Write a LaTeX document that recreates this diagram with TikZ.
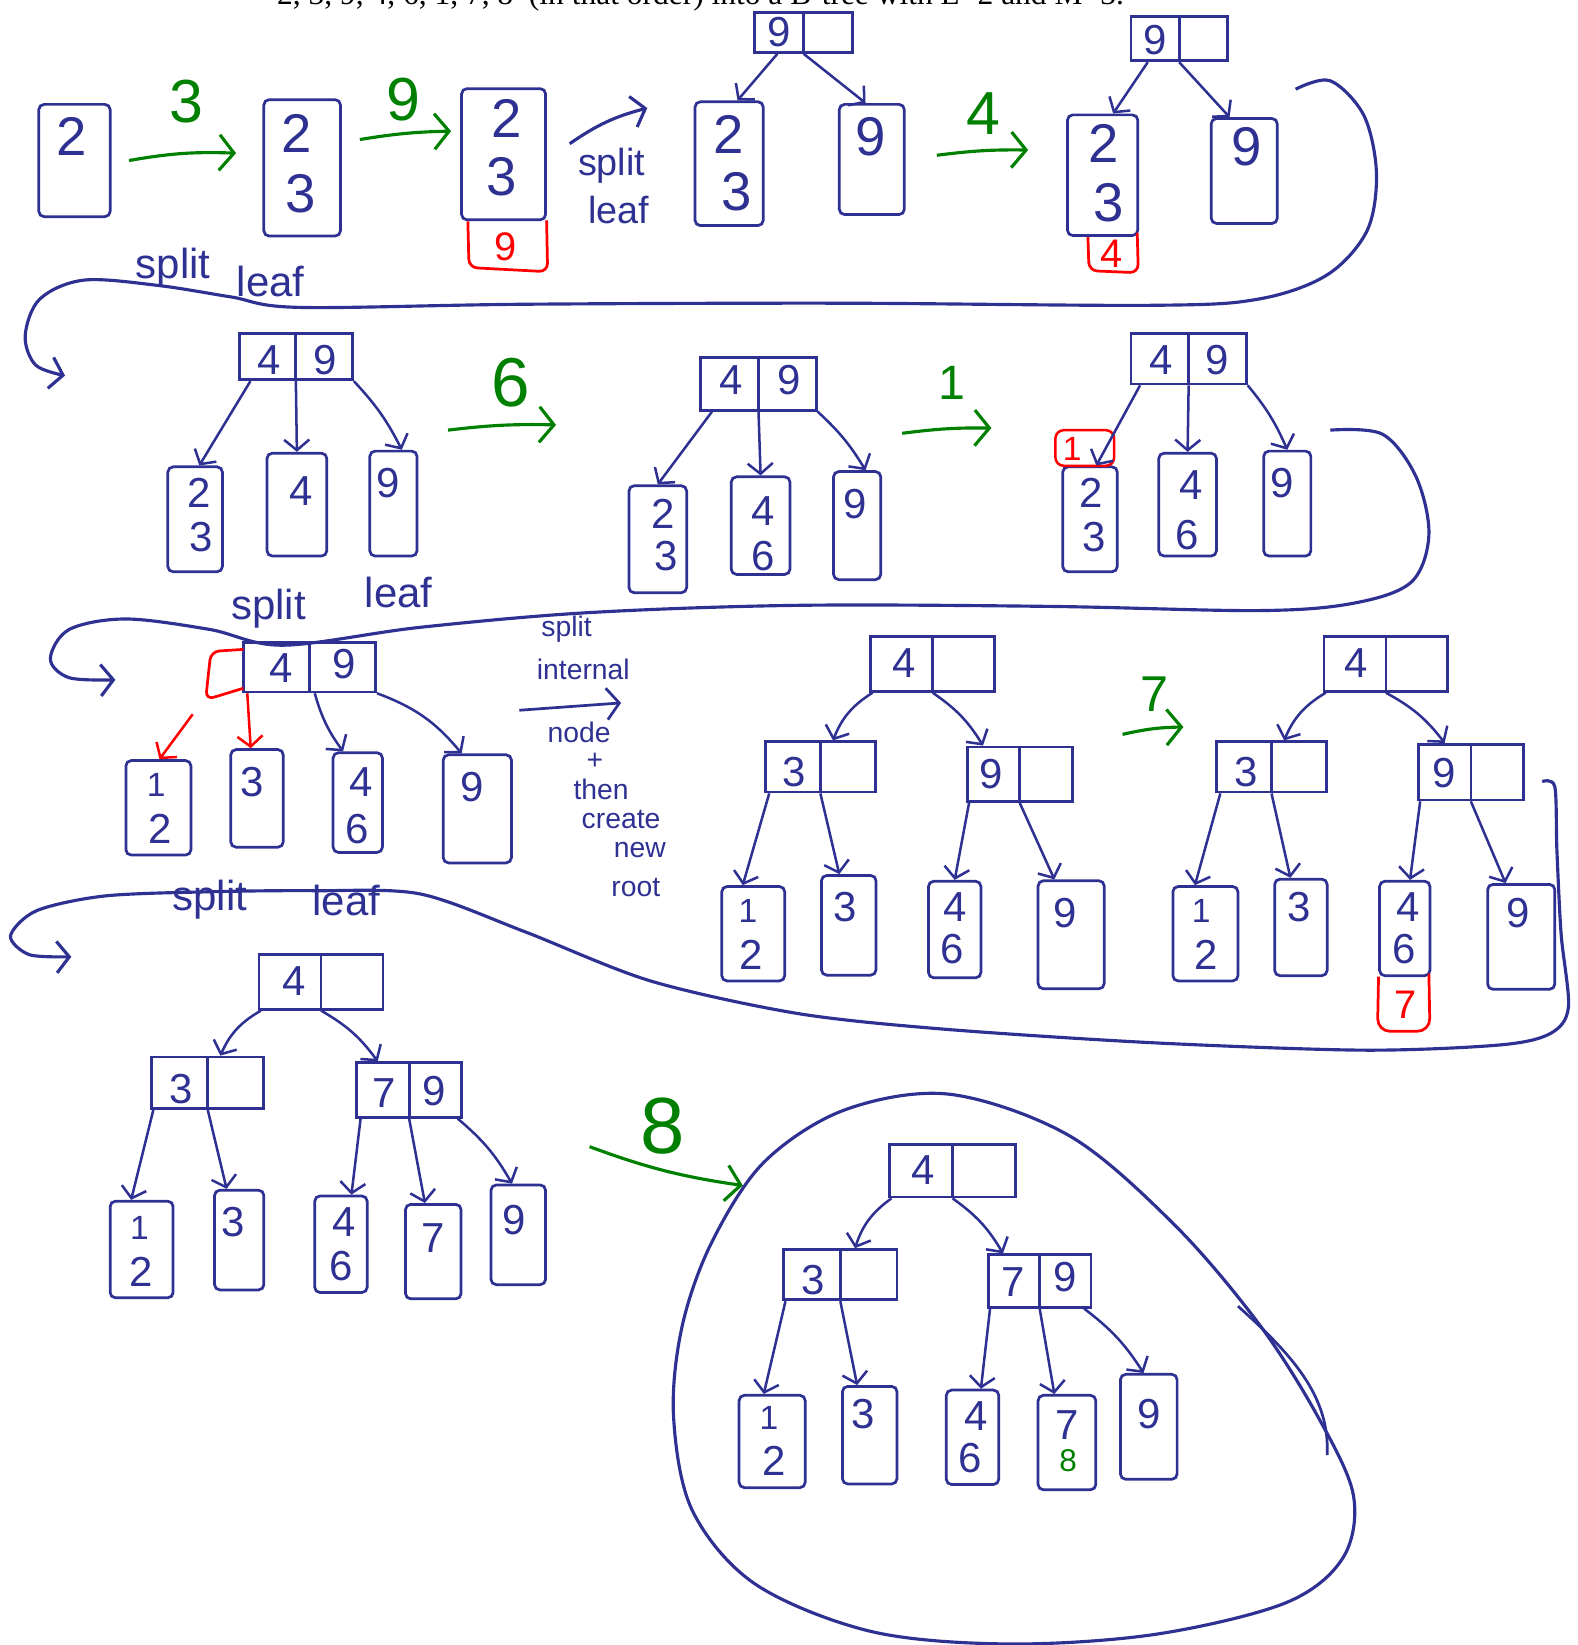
\documentclass[tikz,border=0pt]{standalone}
\usepackage{fontspec}
\setmainfont{Liberation Serif}
\setsansfont{Liberation Sans}
\usetikzlibrary{arrows.meta}
\definecolor{ink}{RGB}{46,49,146}
\definecolor{grn}{RGB}{0,128,0}
\definecolor{rd}{RGB}{255,0,0}
\tikzset{
 leaf/.style={draw=ink, line width=2.6pt, rounded corners=5pt, inner sep=0pt},
 inode/.style={draw=ink, line width=2.6pt, inner sep=0pt},
 divider/.style={draw=ink, line width=2.6pt},
 dig/.style={text=ink, inner sep=0pt, font=\sffamily\fontsize{40}{40}\selectfont},
 bigdig/.style={dig, font=\sffamily\fontsize{52}{52}\selectfont},
 smalldig/.style={dig, font=\sffamily\fontsize{32}{32}\selectfont},
 rdig/.style={dig, text=rd, font=\sffamily\fontsize{38}{38}\selectfont},
 gdig/.style={dig, text=grn, font=\sffamily\fontsize{30}{30}\selectfont},
 lab/.style={text=grn, inner sep=0pt, font=\sffamily\fontsize{58}{58}\selectfont},
 hand/.style={text=ink, inner sep=0pt, font=\sffamily\fontsize{40}{40}\selectfont},
 note/.style={text=ink, inner sep=0pt, font=\sffamily\fontsize{27}{27}\selectfont},
 edge/.style={draw=ink, line width=2.4pt, -{Straight Barb[length=10pt,width=24pt]}},
 redge/.style={edge, draw=rd},
 garrow/.style={draw=grn, line width=3pt, -{Straight Barb[length=14pt,width=34pt]}},
 flow/.style={draw=ink, line width=3pt, -{Straight Barb[length=12pt,width=30pt]}},
 flowline/.style={draw=ink, line width=3pt},
 redline/.style={draw=rd, line width=2.6pt, rounded corners=8pt},
}
\begin{document}
\begin{tikzpicture}[x=1pt,y=-1pt]
\useasboundingbox (0,0) rectangle (1504,1568);

% title (cut off at the top, as in the original)
\node[anchor=base west, inner sep=0pt, font=\fontsize{30}{30}\selectfont] (title) at (264,4)
  {2, 3, 9, 4, 6, 1, 7, 8\ \ (in that order) into a B-tree with L=2 and M=3.};

% ---------------- row 1 ----------------
\node[leaf, minimum width=68pt, minimum height=107pt] (a1) at (71,153) {};
\node[bigdig] (a1k) at (68,130) {2};

\node[leaf, minimum width=73pt, minimum height=130pt] (a2) at (288,160) {};
\node[bigdig] (a2k1) at (283,127) {2};
\node[bigdig] (a2k2) at (287,185) {3};

\node[leaf, minimum width=80pt, minimum height=125pt] (a3) at (480,147) {};
\node[bigdig] (a3k1) at (483,113) {2};
\node[bigdig] (a3k2) at (478,168) {3};
\draw[redline] (446,211) -- (447,255) -- (522,259) -- (521,210);
\node[rdig] (a3r) at (482,235) {9};

\coordinate (g1s) at (123,153); \coordinate (g1e) at (225,146);
\draw[garrow] (g1s) to[bend left=6] (g1e);
\node[lab] (g1l) at (178,97) {3};
\coordinate (g2s) at (343,133); \coordinate (g2e) at (430,125);
\draw[garrow] (g2s) to[bend left=4] (g2e);
\node[lab] (g2l) at (385,95) {9};

\coordinate (s1s) at (543,137); \coordinate (s1e) at (617,103);
\draw[flow] (s1s) to[bend left=10] (s1e);
\node[note, font=\sffamily\fontsize{36}{36}\selectfont] (s1t1) at (583,158) {split};
\node[note, font=\sffamily\fontsize{36}{36}\selectfont] (s1t2) at (590,200) {leaf};

% tree T1
\node[inode, minimum width=93pt, minimum height=38pt] (t1r) at (766,31) {};
\draw[divider] (t1r.north) -- (t1r.south);
\node[dig] (t1rk) at (743,31) {9};
\node[leaf, minimum width=65pt, minimum height=118pt] (t1a) at (695,156) {};
\node[bigdig] (t1ak1) at (695,128) {2};
\node[bigdig] (t1ak2) at (702,183) {3};
\node[leaf, minimum width=62pt, minimum height=105pt] (t1b) at (831,152) {};
\node[bigdig] (t1bk) at (830,130) {9};
\draw[edge] ([xshift=-25pt]t1r.south) -- ([xshift=8pt]t1a.north);
\draw[edge] (t1r.south) -- ([xshift=-6pt]t1b.north);

\coordinate (g3s) at (893,148); \coordinate (g3e) at (980,143);
\draw[garrow] (g3s) to[bend left=4] (g3e);
\node[lab] (g3l) at (937,108) {4};

% tree T2
\node[inode, minimum width=92pt, minimum height=42pt] (t2r) at (1124,37) {};
\draw[divider] (t2r.north) -- (t2r.south);
\node[dig] (t2rk) at (1101,38) {9};
\node[leaf, minimum width=67pt, minimum height=115pt] (t2a) at (1051,167) {};
\node[bigdig] (t2ak1) at (1052,137) {2};
\node[bigdig] (t2ak2) at (1057,193) {3};
\draw[redline] (1037,226) -- (1038,258) -- (1085,260) -- (1084,222);
\node[rdig] (t2red) at (1060,242) {4};
\node[leaf, minimum width=63pt, minimum height=100pt] (t2b) at (1186,163) {};
\node[bigdig] (t2bk) at (1188,140) {9};
\draw[edge] ([xshift=-30pt]t2r.south) -- ([xshift=10pt]t2a.north);
\draw[edge] (t2r.south) -- ([xshift=-14pt]t2b.north);

% big connector 1
\coordinate (c1s) at (1235,85);
\coordinate (c1e) at (62,358);
\draw[flow] plot[smooth, tension=0.55] coordinates {(c1s) (1268,77) (1300,110) (1312,165) (1303,220) (1265,262) (1200,285) (1100,291) (800,289) (500,290) (285,293) (220,283) (150,272) (80,267) (38,285) (24,320) (34,348) (62,358)};
\node[hand] (c1t1) at (165,255) {split};
\node[hand] (c1t2) at (258,268) {leaf};

% ---------------- row 2 ----------------
% tree T3
\node[inode, minimum width=108pt, minimum height=44pt] (t3r) at (282,340) {};
\draw[divider] (t3r.north) -- (t3r.south);
\node[dig] (t3rk1) at (257,343) {4};
\node[dig] (t3rk2) at (310,343) {9};
\node[leaf, minimum width=52pt, minimum height=100pt] (t3a) at (186,495) {};
\node[dig] (t3ak1) at (190,470) {2};
\node[dig] (t3ak2) at (192,512) {3};
\node[leaf, minimum width=57pt, minimum height=98pt] (t3b) at (283,481) {};
\node[dig] (t3bk) at (287,468) {4};
\node[leaf, minimum width=45pt, minimum height=100pt] (t3c) at (375,480) {};
\node[dig] (t3ck) at (370,460) {9};
\draw[edge] ([xshift=12pt]t3r.south west) -- ([xshift=4pt]t3a.north);
\draw[edge] (t3r.south) -- (t3b.north);
\draw[edge] (t3r.south east) to[bend left=8] ([xshift=8pt]t3c.north);

\coordinate (g4s) at (427,410); \coordinate (g4e) at (530,405);
\draw[garrow] (g4s) to[bend left=4] (g4e);
\node[lab, font=\sffamily\fontsize{66}{66}\selectfont] (g4l) at (487,365) {6};

% tree T4
\node[inode, minimum width=110pt, minimum height=50pt] (t4r) at (723,366) {};
\draw[divider] (t4r.north) -- (t4r.south);
\node[dig] (t4rk1) at (697,362) {4};
\node[dig] (t4rk2) at (752,362) {9};
\node[leaf, minimum width=55pt, minimum height=102pt] (t4a) at (627,514) {};
\node[dig] (t4ak1) at (632,490) {2};
\node[dig] (t4ak2) at (635,530) {3};
\node[leaf, minimum width=56pt, minimum height=93pt] (t4b) at (725,501) {};
\node[dig] (t4bk1) at (727,487) {4};
\node[dig] (t4bk2) at (727,530) {6};
\node[leaf, minimum width=45pt, minimum height=103pt] (t4c) at (817,501) {};
\node[dig] (t4ck) at (815,480) {9};
\draw[edge] ([xshift=12pt]t4r.south west) -- (t4a.north);
\draw[edge] (t4r.south) -- (t4b.north);
\draw[edge] (t4r.south east) to[bend left=8] ([xshift=8pt]t4c.north);

\coordinate (g5s) at (860,413); \coordinate (g5e) at (945,408);
\draw[garrow] (g5s) to[bend left=4] (g5e);
\node[lab, font=\sffamily\fontsize{46}{46}\selectfont] (g5l) at (907,365) {1};

% tree T5
\node[inode, minimum width=110pt, minimum height=48pt] (t5r) at (1133,342) {};
\draw[divider] (t5r.north) -- (t5r.south);
\node[dig] (t5rk1) at (1107,343) {4};
\node[dig] (t5rk2) at (1160,343) {9};
\node[leaf, minimum width=52pt, minimum height=100pt] (t5a) at (1039,495) {};
\node[dig] (t5ak1) at (1040,470) {2};
\node[dig] (t5ak2) at (1043,512) {3};
\node[draw=rd, line width=2.4pt, rounded corners=8pt, inner sep=0pt, minimum width=56pt, minimum height=34pt] (t5red) at (1034,427) {};
\node[rdig, font=\sffamily\fontsize{32}{32}\selectfont] (t5redk) at (1022,428) {1};
\node[leaf, minimum width=55pt, minimum height=98pt] (t5b) at (1132,481) {};
\node[dig] (t5bk1) at (1135,462) {4};
\node[dig] (t5bk2) at (1132,510) {6};
\node[leaf, minimum width=45pt, minimum height=100pt] (t5c) at (1227,480) {};
\node[dig] (t5ck) at (1222,460) {9};
\draw[edge] ([xshift=10pt]t5r.south west) -- ([xshift=6pt]t5a.north);
\draw[edge] (t5r.south) -- (t5b.north);
\draw[edge] (t5r.south east) to[bend left=8] (t5c.north);

% big connector 2
\coordinate (c2s) at (1268,410);
\coordinate (c2e) at (110,648);
\draw[flow] plot[smooth, tension=0.55] coordinates {(c2s) (1318,414) (1350,455) (1362,510) (1345,555) (1290,575) (1200,582) (1000,578) (760,577) (560,584) (400,598) (270,615) (200,600) (120,590) (66,600) (48,628) (66,646) (110,648)};
\node[hand] (c2t1) at (256,580) {split};
\node[hand] (c2t2) at (380,565) {leaf};

% ---------------- row 3 ----------------
% tree T6
\node[inode, minimum width=126pt, minimum height=47pt] (t6r) at (295,636) {};
\draw[divider] (t6r.north) -- (t6r.south);
\node[dig] (t6rk1) at (268,637) {4};
\node[dig] (t6rk2) at (328,633) {9};
\draw[redline] (232,619) -- (201,621) -- (196,667) -- (232,656);
\node[leaf, minimum width=62pt, minimum height=90pt] (t6a) at (151,770) {};
\node[smalldig] (t6ak1) at (149,748) {1};
\node[dig] (t6ak2) at (153,790) {2};
\node[leaf, minimum width=50pt, minimum height=93pt] (t6b) at (245,761) {};
\node[dig] (t6bk) at (240,745) {3};
\node[leaf, minimum width=47pt, minimum height=95pt] (t6c) at (341,765) {};
\node[dig] (t6ck1) at (344,745) {4};
\node[dig] (t6ck2) at (340,790) {6};
\node[leaf, minimum width=65pt, minimum height=103pt] (t6d) at (455,771) {};
\node[dig] (t6dk) at (450,750) {9};
\draw[redge] ([xshift=-47pt,yshift=-20pt]t6r.south west) -- ([xshift=1pt]t6a.north);
\draw[redge] ([xshift=5pt]t6r.south west) -- ([xshift=-6pt]t6b.north);
\draw[edge] ([xshift=5pt]t6r.south) to[bend right=10] ([xshift=-14pt]t6c.north);
\draw[edge] (t6r.south east) to[bend left=15] ([xshift=-15pt]t6d.north);

% side note
\node[note] (n1) at (540,600) {split};
\node[note] (n2) at (556,638) {internal};
\coordinate (n3s) at (495,677); \coordinate (n3e) at (592,670);
\draw[flow, line width=2.6pt] (n3s) -- (n3e);
\node[note] (n4) at (552,698) {node};
\node[note] (n5) at (567,726) {+};
\node[note] (n6) at (573,752) {then};
\node[note] (n7) at (592,781) {create};
\node[note] (n8) at (610,810) {new};
\node[note] (n9) at (606,846) {root};

% tree T7
\node[inode, minimum width=118pt, minimum height=52pt] (t7r) at (889,633) {};
\draw[divider] (t7r.north) -- (t7r.south);
\node[dig] (t7rk) at (862,632) {4};
\node[inode, minimum width=105pt, minimum height=48pt] (t7i1) at (782,731) {};
\draw[divider] (t7i1.north) -- (t7i1.south);
\node[dig] (t7i1k) at (757,736) {3};
\node[inode, minimum width=100pt, minimum height=52pt] (t7i2) at (972,738) {};
\draw[divider] (t7i2.north) -- (t7i2.south);
\node[dig] (t7i2k) at (945,738) {9};
\draw[edge] ([xshift=3pt]t7r.south west) to[bend right=18] ([xshift=12pt]t7i1.north);
\draw[edge] (t7r.south) to[bend left=12] ([xshift=-35pt]t7i2.north);
\node[leaf, minimum width=60pt, minimum height=90pt] (t7a) at (718,890) {};
\node[smalldig] (t7ak1) at (713,868) {1};
\node[dig] (t7ak2) at (716,910) {2};
\node[leaf, minimum width=52pt, minimum height=95pt] (t7b) at (809,882) {};
\node[dig] (t7bk) at (806,865) {3};
\node[leaf, minimum width=50pt, minimum height=92pt] (t7c) at (910,886) {};
\node[dig] (t7ck1) at (910,865) {4};
\node[dig] (t7ck2) at (908,905) {6};
\node[leaf, minimum width=63pt, minimum height=103pt] (t7d) at (1021,891) {};
\node[dig] (t7dk) at (1015,870) {9};
\draw[edge] ([xshift=5pt]t7i1.south west) -- ([xshift=-10pt]t7a.north);
\draw[edge] (t7i1.south) -- ([xshift=-9pt]t7b.north);
\draw[edge] ([xshift=3pt]t7i2.south west) -- (t7c.north);
\draw[edge] (t7i2.south) -- ([xshift=-16pt]t7d.north);

\coordinate (g6s) at (1070,700); \coordinate (g6e) at (1128,693);
\draw[garrow] (g6s) to[bend left=6] (g6e);
\node[lab, font=\sffamily\fontsize{48}{48}\selectfont] (g6l) at (1100,662) {7};

% tree T8
\node[inode, minimum width=118pt, minimum height=52pt] (t8r) at (1321,633) {};
\draw[divider] (t8r.north) -- (t8r.south);
\node[dig] (t8rk) at (1293,632) {4};
\node[inode, minimum width=105pt, minimum height=48pt] (t8i1) at (1212,731) {};
\draw[divider] (t8i1.north) -- (t8i1.south);
\node[dig] (t8i1k) at (1188,736) {3};
\node[inode, minimum width=100pt, minimum height=53pt] (t8i2) at (1402,736) {};
\draw[divider] (t8i2.north) -- (t8i2.south);
\node[dig] (t8i2k) at (1377,737) {9};
\draw[edge] ([xshift=3pt]t8r.south west) to[bend right=18] ([xshift=12pt]t8i1.north);
\draw[edge] (t8r.south) to[bend left=12] ([xshift=-25pt]t8i2.north);
\node[leaf, minimum width=62pt, minimum height=90pt] (t8a) at (1149,890) {};
\node[smalldig] (t8ak1) at (1145,868) {1};
\node[dig] (t8ak2) at (1150,910) {2};
\node[leaf, minimum width=50pt, minimum height=92pt] (t8b) at (1240,884) {};
\node[dig] (t8bk) at (1238,865) {3};
\node[leaf, minimum width=48pt, minimum height=90pt] (t8c) at (1339,885) {};
\node[dig] (t8ck1) at (1342,865) {4};
\node[dig] (t8ck2) at (1338,905) {6};
\draw[redline, rounded corners=12pt] (1314,931) -- (1313,983) -- (1363,983) -- (1362,928);
\node[rdig] (t8red) at (1340,958) {7};
\node[leaf, minimum width=64pt, minimum height=100pt] (t8d) at (1450,893) {};
\node[dig] (t8dk) at (1447,870) {9};
\draw[edge] ([xshift=5pt]t8i1.south west) -- ([xshift=-10pt]t8a.north);
\draw[edge] (t8i1.south) -- ([xshift=-10pt]t8b.north);
\draw[edge] ([xshift=3pt]t8i2.south west) -- ([xshift=5pt]t8c.north);
\draw[edge] (t8i2.south) -- ([xshift=-15pt]t8d.north);

% big connector 3
\coordinate (c3s) at (1470,745);
\coordinate (c3e) at (68,912);
\draw[flow] plot[smooth, tension=0.5] coordinates {(c3s) (1482,750) (1484,810) (1488,890) (1495,960) (1478,985) (1430,996) (1300,1001) (1100,994) (900,981) (760,966) (620,935) (500,888) (400,852) (300,849) (200,850) (100,854) (35,868) (10,892) (28,910) (68,912)};
\node[hand] (c3t1) at (200,858) {split};
\node[hand] (c3t2) at (330,858) {leaf};

% ---------------- row 4 ----------------
% tree T9
\node[inode, minimum width=118pt, minimum height=52pt] (t9r) at (306,936) {};
\draw[divider] (t9r.north) -- (t9r.south);
\node[dig] (t9rk) at (280,935) {4};
\node[inode, minimum width=107pt, minimum height=49pt] (t9i1) at (198,1032) {};
\draw[divider] (t9i1.north) -- (t9i1.south);
\node[dig] (t9i1k) at (173,1038) {3};
\node[inode, minimum width=100pt, minimum height=52pt] (t9i2) at (390,1039) {};
\draw[divider] (t9i2.north) -- (t9i2.south);
\node[dig] (t9i2k1) at (366,1042) {7};
\node[dig] (t9i2k2) at (414,1040) {9};
\draw[edge] ([xshift=3pt]t9r.south west) to[bend right=18] ([xshift=12pt]t9i1.north);
\draw[edge] (t9r.south) to[bend left=12] ([xshift=-30pt]t9i2.north);
\node[leaf, minimum width=60pt, minimum height=92pt] (t9a) at (135,1191) {};
\node[smalldig] (t9ak1) at (133,1170) {1};
\node[dig] (t9ak2) at (135,1212) {2};
\node[leaf, minimum width=47pt, minimum height=95pt] (t9b) at (228,1182) {};
\node[dig] (t9bk) at (222,1165) {3};
\node[leaf, minimum width=50pt, minimum height=92pt] (t9c) at (325,1186) {};
\node[dig] (t9ck1) at (328,1165) {4};
\node[dig] (t9ck2) at (325,1207) {6};
\node[leaf, minimum width=53pt, minimum height=90pt] (t9d) at (413,1193) {};
\node[dig] (t9dk) at (413,1180) {7};
\node[leaf, minimum width=52pt, minimum height=95pt] (t9e) at (494,1177) {};
\node[dig] (t9ek) at (490,1163) {9};
\draw[edge] ([xshift=3pt]t9i1.south west) -- ([xshift=-10pt]t9a.north);
\draw[edge] (t9i1.south) -- ([xshift=-12pt]t9b.north);
\draw[edge] ([xshift=5pt]t9i2.south west) -- ([xshift=10pt]t9c.north);
\draw[edge] (t9i2.south) -- ([xshift=-8pt]t9d.north);
\draw[edge] ([xshift=-5pt]t9i2.south east) to[bend left=10] ([xshift=-6pt]t9e.north);

\coordinate (g7s) at (562,1093); \coordinate (g7e) at (708,1130);
\draw[garrow] (g7s) to[bend right=6] (g7e);
\node[lab, font=\sffamily\fontsize{76}{76}\selectfont] (g7l) at (632,1073) {8};

% enclosing oval and extra stroke
\draw[flowline] plot[smooth cycle, tension=0.55] coordinates {(905,1043) (1020,1083) (1120,1168) (1200,1262) (1256,1350) (1290,1425) (1280,1485) (1225,1528) (1100,1558) (960,1567) (830,1555) (720,1510) (660,1440) (642,1350) (650,1265) (678,1185) (728,1108) (805,1058)};
\coordinate (xs) at (1180,1245); \coordinate (xe) at (1265,1387);
\draw[flowline, line width=2.6pt] (xs) .. controls (1230,1290) and (1268,1330) .. (xe);

% tree T10
\node[inode, minimum width=120pt, minimum height=50pt] (t10r) at (908,1116) {};
\draw[divider] (t10r.north) -- (t10r.south);
\node[dig] (t10rk) at (880,1115) {4};
\node[inode, minimum width=108pt, minimum height=48pt] (t10i1) at (801,1215) {};
\draw[divider] (t10i1.north) -- (t10i1.south);
\node[dig] (t10i1k) at (775,1220) {3};
\node[inode, minimum width=98pt, minimum height=50pt] (t10i2) at (991,1221) {};
\draw[divider] (t10i2.north) -- (t10i2.south);
\node[dig] (t10i2k1) at (966,1222) {7};
\node[dig] (t10i2k2) at (1015,1217) {9};
\draw[edge] ([xshift=3pt]t10r.south west) to[bend right=18] ([xshift=14pt]t10i1.north);
\draw[edge] (t10r.south) to[bend left=12] ([xshift=-35pt]t10i2.north);
\node[leaf, minimum width=63pt, minimum height=88pt] (t10a) at (736,1374) {};
\node[smalldig] (t10ak1) at (733,1352) {1};
\node[dig] (t10ak2) at (738,1392) {2};
\node[leaf, minimum width=52pt, minimum height=93pt] (t10b) at (829,1368) {};
\node[dig] (t10bk) at (823,1348) {3};
\node[leaf, minimum width=50pt, minimum height=90pt] (t10c) at (927,1370) {};
\node[dig] (t10ck1) at (930,1350) {4};
\node[dig] (t10ck2) at (925,1390) {6};
\node[leaf, minimum width=55pt, minimum height=90pt] (t10d) at (1017,1375) {};
\node[dig] (t10dk1) at (1017,1358) {7};
\node[gdig] (t10dk2) at (1018,1392) {8};
\node[leaf, minimum width=54pt, minimum height=100pt] (t10e) at (1095,1360) {};
\node[dig] (t10ek) at (1095,1348) {9};
\draw[edge] ([xshift=3pt]t10i1.south west) -- ([xshift=-8pt]t10a.north);
\draw[edge] (t10i1.south) -- ([xshift=-12pt]t10b.north);
\draw[edge] ([xshift=3pt]t10i2.south west) -- ([xshift=8pt]t10c.north);
\draw[edge] (t10i2.south) -- ([xshift=-12pt]t10d.north);
\draw[edge] ([xshift=-8pt]t10i2.south east) to[bend left=10] ([xshift=-5pt]t10e.north);
\end{tikzpicture}
\end{document}
